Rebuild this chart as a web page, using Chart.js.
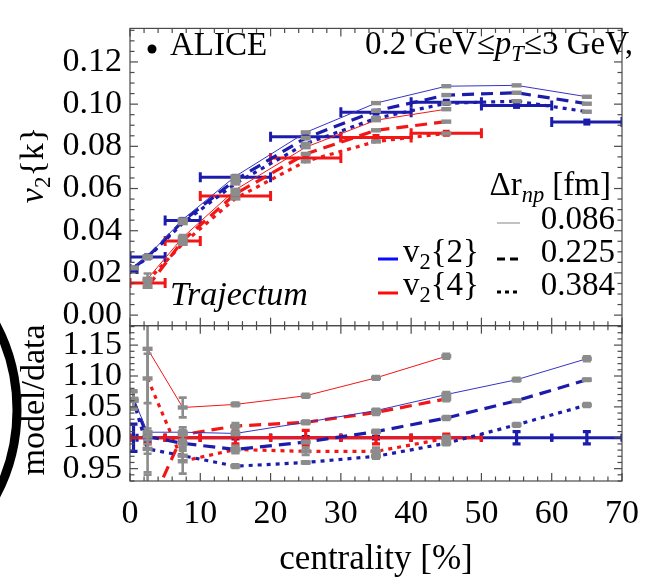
<!DOCTYPE html>
<html>
<head>
<meta charset="utf-8">
<script src="https://cdn.jsdelivr.net/npm/chart.js@4.4.1/dist/chart.umd.min.js"></script>
<style>
  html, body { margin: 0; padding: 0; background: #fff; }
  canvas { display: block; }
</style>
</head>
<body>
<canvas id="chart" width="652" height="584"></canvas>
<script>
// centrality bin centres of the model points
const centresV22 = [0.5, 2.5, 7.5, 15, 25, 35, 45, 55, 65];
const centresV24 = [2.5, 7.5, 15, 25, 35, 45];

// ALICE data, v2{2}
const binLoV22 = [0, 0, 5, 10, 20, 30, 40, 50, 60];
const binHiV22 = [1, 5, 10, 20, 30, 40, 50, 60, 70];
const aliceV22 = [0.0218, 0.0276, 0.0449, 0.0653, 0.0845, 0.0962, 0.1009, 0.0994, 0.0915];
const aliceV22Err = [0.0006, 0.0004, 0.0004, 0.0004, 0.0004, 0.0004, 0.0005, 0.0006, 0.0007];

// ALICE data, v2{4}
const binLoV24 = [0, 5, 10, 20, 30, 40];
const binHiV24 = [5, 10, 20, 30, 40, 50];
const aliceV24 = [0.0152, 0.0351, 0.0564, 0.0745, 0.0842, 0.0862];
const aliceV24Err = [0.0006, 0.0004, 0.0004, 0.0005, 0.0005, 0.0005];

// Trajectum, three values of delta r_np (0.086, 0.225, 0.384 fm)
const v22Solid  = [0.0225, 0.0279, 0.0453, 0.0658, 0.0866, 0.1005, 0.1085, 0.1089, 0.1035];
const v22Dashed = [0.0223, 0.0276, 0.0445, 0.0641, 0.0840, 0.0968, 0.1043, 0.1054, 0.1002];
const v22Dotted = [0.0223, 0.0272, 0.0436, 0.0624, 0.0812, 0.0933, 0.1004, 0.1014, 0.0964];
const v24Solid  = [0.0172, 0.0368, 0.0594, 0.0796, 0.0924, 0.0976];
const v24Dashed = [0.0134, 0.0353, 0.0575, 0.0764, 0.0876, 0.0917];
const v24Dotted = [0.0163, 0.0338, 0.0553, 0.0729, 0.0823, 0.0861];
const v24SolidErr = [0.0025, 0.0012, 0, 0, 0, 0];

// model / data
const ratioV22Solid  = [1.063, 1.009, 1.009, 1.007, 1.025, 1.044, 1.070, 1.094, 1.128];
const ratioV22Dashed = [1.060, 1.002, 0.991, 0.981, 0.993, 1.010, 1.032, 1.060, 1.094];
const ratioV22Dotted = [1.060, 0.982, 0.971, 0.954, 0.960, 0.970, 0.991, 1.021, 1.053];
const ratioV24Solid  = [1.144, 1.049, 1.054, 1.068, 1.097, 1.132];
const ratioV24Dashed = [0.880, 1.005, 1.019, 1.025, 1.041, 1.063];
const ratioV24Dotted = [1.096, 0.962, 0.981, 0.978, 0.978, 0.999];

const errV22Solid  = [0.014, 0.006, 0.004, 0.003, 0.002, 0.003, 0.004, 0.003, 0.004];
const errV22Dashed = [0.014, 0.006, 0.006, 0.005, 0.002, 0.003, 0.003, 0.002, 0.002];
const errV22Dotted = [0.014, 0.008, 0.008, 0.003, 0.002, 0.004, 0.003, 0.003, 0.003];
const errV24Solid  = [0.200, 0.016, 0.003, 0.003, 0.003, 0.004];
const errV24Dashed = [0.060, 0.012, 0.005, 0.003, 0.004, 0.004];
const errV24Dotted = [0.040, 0.020, 0.006, 0.006, 0.006, 0.004];

// data errors relative to data (ratio panel)
const dataRatio = 1;
const dataRatioErrV22 = [0.022, 0.006, 0.003, 0.002, 0.002, 0.002, 0.003, 0.010, 0.010];
const dataRatioErrV24 = [0.010, 0.010, 0.010, 0.012, 0.010, 0.006];

const xTicks = [0, 10, 20, 30, 40, 50, 60, 70];
const v2Ticks = [0.00, 0.02, 0.04, 0.06, 0.08, 0.10, 0.12];
const ratioTicks = [0.95, 1.00, 1.05, 1.10, 1.15];

const blue = "#1c1cab";
const blueThin = "#3434c8";
const red = "#f21616";
const gray = "#8c8c8c";
const serif = '"Liberation Serif", "DejaVu Serif", serif';

function pts(xs, ys) {
    return xs.map((x, i) => ({ x: x, y: ys[i] }));
}

function modelSet(xs, ys, color, width, dash, axis) {
    return {
        data: pts(xs, ys),
        yAxisID: axis,
        borderColor: color,
        borderWidth: width,
        borderDash: dash,
        pointRadius: 0,
        fill: false,
        tension: 0
    };
}

const solid = [];
const dashed = [12, 7];
const dotted = [4, 5];

const datasets = [
    modelSet(centresV22, v22Solid, blueThin, 1, solid, "yv"),
    modelSet(centresV22, v22Dashed, blue, 3.2, dashed, "yv"),
    modelSet(centresV22, v22Dotted, blue, 3.2, dotted, "yv"),
    modelSet(centresV24, v24Solid, red, 1, solid, "yv"),
    modelSet(centresV24, v24Dashed, red, 3.2, dashed, "yv"),
    modelSet(centresV24, v24Dotted, red, 3.2, dotted, "yv"),
    modelSet(centresV22, ratioV22Solid, blueThin, 1, solid, "yr"),
    modelSet(centresV22, ratioV22Dashed, blue, 3.2, dashed, "yr"),
    modelSet(centresV22, ratioV22Dotted, blue, 3.2, dotted, "yr"),
    modelSet(centresV24, ratioV24Solid, red, 1, solid, "yr"),
    modelSet(centresV24, ratioV24Dashed, red, 3.2, dashed, "yr"),
    modelSet(centresV24, ratioV24Dotted, red, 3.2, dotted, "yr")
];

function line(ctx, x1, y1, x2, y2) {
    ctx.beginPath();
    ctx.moveTo(x1, y1);
    ctx.lineTo(x2, y2);
    ctx.stroke();
}

function clipTo(ctx, x, ys) {
    ctx.beginPath();
    ctx.rect(x.left, ys.top, x.right - x.left, ys.bottom - ys.top);
    ctx.clip();
}

// ALICE points: horizontal bin bars with caps
function drawData(ctx, x, ys, lo, hi, vals, errs, color) {
    ctx.strokeStyle = color;
    ctx.fillStyle = color;
    ctx.lineWidth = 3;
    vals.forEach((v, i) => {
        const xl = x.getPixelForValue(lo[i]);
        const xr = x.getPixelForValue(hi[i]);
        const xc = x.getPixelForValue((lo[i] + hi[i]) / 2);
        const yp = ys.getPixelForValue(v);
        line(ctx, xl, yp, xr, yp);
        line(ctx, xl, yp - 5, xl, yp + 5);
        line(ctx, xr, yp - 5, xr, yp + 5);
        const yt = ys.getPixelForValue(v + errs[i]);
        const yb = ys.getPixelForValue(v - errs[i]);
        line(ctx, xc, yt, xc, yb);
        ctx.fillRect(xc - 3.5, yp - 3.5, 7, 7);
    });
}

function drawRatioData(ctx, x, ys, lo, hi, errs, color) {
    ctx.strokeStyle = color;
    ctx.lineWidth = 3.2;
    const yp = ys.getPixelForValue(dataRatio);
    errs.forEach((e, i) => {
        const xl = x.getPixelForValue(lo[i]);
        const xr = x.getPixelForValue(hi[i]);
        const xc = x.getPixelForValue((lo[i] + hi[i]) / 2);
        line(ctx, xl, yp, xr, yp);
        line(ctx, xl, yp - 4, xl, yp + 4);
        line(ctx, xr, yp - 4, xr, yp + 4);
        const yt = ys.getPixelForValue(dataRatio + e);
        const yb = ys.getPixelForValue(dataRatio - e);
        line(ctx, xc, yt, xc, yb);
        line(ctx, xc - 4, yt, xc + 4, yt);
        line(ctx, xc - 4, yb, xc + 4, yb);
    });
}

// gray model markers (short thick dashes) with optional error bars
function drawModelPts(ctx, x, ys, xs, vals, errs) {
    ctx.strokeStyle = gray;
    ctx.fillStyle = gray;
    ctx.lineWidth = 2.6;
    vals.forEach((v, i) => {
        const xc = x.getPixelForValue(xs[i]);
        const yc = ys.getPixelForValue(v);
        ctx.fillRect(xc - 5, yc - 2.2, 10, 4.4);
        if (!errs || !errs[i]) return;
        const yt = ys.getPixelForValue(v + errs[i]);
        const yb = ys.getPixelForValue(v - errs[i]);
        line(ctx, xc, yt, xc, yb);
        line(ctx, xc - 4, yt, xc + 4, yt);
        line(ctx, xc - 4, yb, xc + 4, yb);
    });
}

const errorBars = {
    id: "errorBars",
    beforeDatasetsDraw(chart) {
        const { ctx, scales: { x, yv, yr } } = chart;
        ctx.save();
        clipTo(ctx, x, yv);
        drawData(ctx, x, yv, binLoV22, binHiV22, aliceV22, aliceV22Err, blue);
        drawData(ctx, x, yv, binLoV24, binHiV24, aliceV24, aliceV24Err, red);
        ctx.restore();
        ctx.save();
        clipTo(ctx, x, yr);
        drawRatioData(ctx, x, yr, binLoV22, binHiV22, dataRatioErrV22, blue);
        drawRatioData(ctx, x, yr, binLoV24, binHiV24, dataRatioErrV24, red);
        ctx.restore();
    },
    afterDatasetsDraw(chart) {
        const { ctx, scales: { x, yv, yr } } = chart;
        ctx.save();
        clipTo(ctx, x, yv);
        drawModelPts(ctx, x, yv, centresV22, v22Solid, null);
        drawModelPts(ctx, x, yv, centresV22, v22Dashed, null);
        drawModelPts(ctx, x, yv, centresV22, v22Dotted, null);
        drawModelPts(ctx, x, yv, centresV24, v24Solid, v24SolidErr);
        drawModelPts(ctx, x, yv, centresV24, v24Dashed, null);
        drawModelPts(ctx, x, yv, centresV24, v24Dotted, null);
        ctx.restore();
        ctx.save();
        clipTo(ctx, x, yr);
        drawModelPts(ctx, x, yr, centresV22, ratioV22Solid, errV22Solid);
        drawModelPts(ctx, x, yr, centresV22, ratioV22Dashed, errV22Dashed);
        drawModelPts(ctx, x, yr, centresV22, ratioV22Dotted, errV22Dotted);
        drawModelPts(ctx, x, yr, centresV24, ratioV24Solid, errV24Solid);
        drawModelPts(ctx, x, yr, centresV24, ratioV24Dashed, errV24Dashed);
        drawModelPts(ctx, x, yr, centresV24, ratioV24Dotted, errV24Dotted);
        ctx.restore();
    }
};

// Mathematica-like frame with inward ticks on all sides
const frame = {
    id: "frame",
    afterDatasetsDraw(chart) {
        const { ctx, scales: { x, yv, yr } } = chart;
        ctx.save();
        ctx.strokeStyle = "#4a4a4a";
        ctx.lineWidth = 1.2;
        [[yv, 0.005, 0.02], [yr, 0.01, 0.05]].forEach(([ys, minor, major]) => {
            const L = x.left, R = x.right, T = ys.top, B = ys.bottom;
            ctx.strokeRect(L, T, R - L, B - T);
            for (let k = Math.ceil(ys.min / minor - 1e-6); k * minor <= ys.max + 1e-9; k++) {
                const v = k * minor;
                const isMajor = Math.abs(v / major - Math.round(v / major)) < 1e-6;
                const len = isMajor ? 8 : 4.5;
                const yp = ys.getPixelForValue(v);
                line(ctx, L, yp, L + len, yp);
                line(ctx, R, yp, R - len, yp);
            }
            for (let v = 0; v <= 70; v += 2) {
                const len = v % 10 === 0 ? 8 : 4.5;
                const xp = x.getPixelForValue(v);
                line(ctx, xp, T, xp, T + len);
                line(ctx, xp, B, xp, B - len);
            }
        });
        ctx.restore();
    }
};

// text with italic / subscript pieces
function rich(ctx, parts, x, y, size, align) {
    const fontFor = k => (k.indexOf("i") >= 0 ? "italic " : "") +
        (k.indexOf("s") >= 0 ? size * 0.68 : size) + "px " + serif;
    let w = 0;
    parts.forEach(([t, k]) => { ctx.font = fontFor(k); w += ctx.measureText(t).width; });
    let cx = align === "right" ? x - w : align === "center" ? x - w / 2 : x;
    parts.forEach(([t, k]) => {
        ctx.font = fontFor(k);
        ctx.fillText(t, cx, y + (k.indexOf("s") >= 0 ? size * 0.22 : 0));
        cx += ctx.measureText(t).width;
    });
}

const annotations = {
    id: "annotations",
    afterDraw(chart) {
        const { ctx, scales: { x } } = chart;
        ctx.save();
        ctx.fillStyle = "#000";
        ctx.textAlign = "left";
        ctx.textBaseline = "alphabetic";

        // axis titles
        ctx.save();
        ctx.translate(43, 165);
        ctx.rotate(-Math.PI / 2);
        rich(ctx, [["v", "i"], ["2", "s"], ["{k}", "n"]], 0, 0, 34, "center");
        ctx.restore();
        ctx.save();
        ctx.translate(44, 400);
        ctx.rotate(-Math.PI / 2);
        rich(ctx, [["model/data", "n"]], 0, 0, 34, "center");
        ctx.restore();
        rich(ctx, [["centrality [%]", "n"]], (x.left + x.right) / 2, 569, 35, "center");

        // ALICE marker
        ctx.beginPath();
        ctx.arc(152, 49, 4.5, 0, Math.PI * 2);
        ctx.fill();
        rich(ctx, [["ALICE", "n"]], 170, 55, 33, "left");
        rich(ctx, [["0.2 GeV\u2264", "n"], ["p", "i"], ["T", "is"], ["\u22643 GeV,", "n"]], 633, 54, 33, "right");
        rich(ctx, [["Trajectum", "i"]], 170, 305, 34, "left");

        // delta r_np legend
        rich(ctx, [["\u0394r", "n"], ["np", "is"], [" [fm]", "n"]], 611, 195, 33, "right");
        rich(ctx, [["0.086", "n"]], 615, 229, 33, "right");
        rich(ctx, [["0.225", "n"]], 615, 262, 33, "right");
        rich(ctx, [["0.384", "n"]], 615, 295, 33, "right");

        ctx.strokeStyle = "#999";
        ctx.lineWidth = 1.2;
        line(ctx, 497, 223, 520, 223);
        ctx.strokeStyle = "#000";
        ctx.lineWidth = 3;
        ctx.setLineDash([8, 5]);
        line(ctx, 497, 259, 519, 259);
        ctx.setLineDash([4, 4]);
        line(ctx, 497, 292, 519, 292);
        ctx.setLineDash([]);

        ctx.strokeStyle = "#0a0aff";
        line(ctx, 378, 259, 398, 259);
        ctx.strokeStyle = "#ff0a0a";
        line(ctx, 378, 293, 398, 293);
        rich(ctx, [["v", "n"], ["2", "s"], ["{2}", "n"]], 403, 262, 33, "left");
        rich(ctx, [["v", "n"], ["2", "s"], ["{4}", "n"]], 403, 295, 33, "left");

        // cropped ring at the left edge of the figure
        ctx.strokeStyle = "#000";
        ctx.lineWidth = 9;
        ctx.beginPath();
        ctx.arc(-167, 410, 184, -0.6, 0.6);
        ctx.stroke();
        ctx.restore();
    }
};

const tickFont = { family: serif, size: 34 };

new Chart(document.getElementById("chart"), {
    type: "line",
    data: { datasets: datasets },
    options: {
        responsive: false,
        animation: false,
        events: [],
        layout: { padding: { top: 9, right: 22, left: 0, bottom: 0 } },
        plugins: { legend: { display: false }, tooltip: { enabled: false } },
        scales: {
            x: {
                type: "linear",
                min: 0,
                max: 70,
                afterBuildTicks: s => { s.ticks = xTicks.map(v => ({ value: v })); },
                afterFit: s => { s.height = 103; },
                grid: { display: false, drawTicks: false },
                border: { display: false },
                ticks: { font: tickFont, color: "#000", padding: 13, maxRotation: 0, autoSkip: false }
            },
            yr: {
                type: "linear",
                position: "left",
                stack: "panels",
                stackWeight: 162,
                min: 0.93,
                max: 1.1815,
                afterBuildTicks: s => { s.ticks = ratioTicks.map(v => ({ value: v })); },
                afterFit: s => { s.width = 130; },
                grid: { display: false, drawTicks: false },
                border: { display: false },
                ticks: { font: tickFont, color: "#000", padding: 8, autoSkip: false, callback: v => v.toFixed(2) }
            },
            yv: {
                type: "linear",
                position: "left",
                stack: "panels",
                stackWeight: 310,
                min: -0.005,
                max: 0.1359,
                afterBuildTicks: s => { s.ticks = v2Ticks.map(v => ({ value: v })); },
                afterFit: s => { s.width = 130; },
                grid: { display: false, drawTicks: false },
                border: { display: false },
                ticks: { font: tickFont, color: "#000", padding: 8, autoSkip: false, callback: v => v.toFixed(2) }
            }
        }
    },
    plugins: [errorBars, frame, annotations]
});
</script>
</body>
</html>
